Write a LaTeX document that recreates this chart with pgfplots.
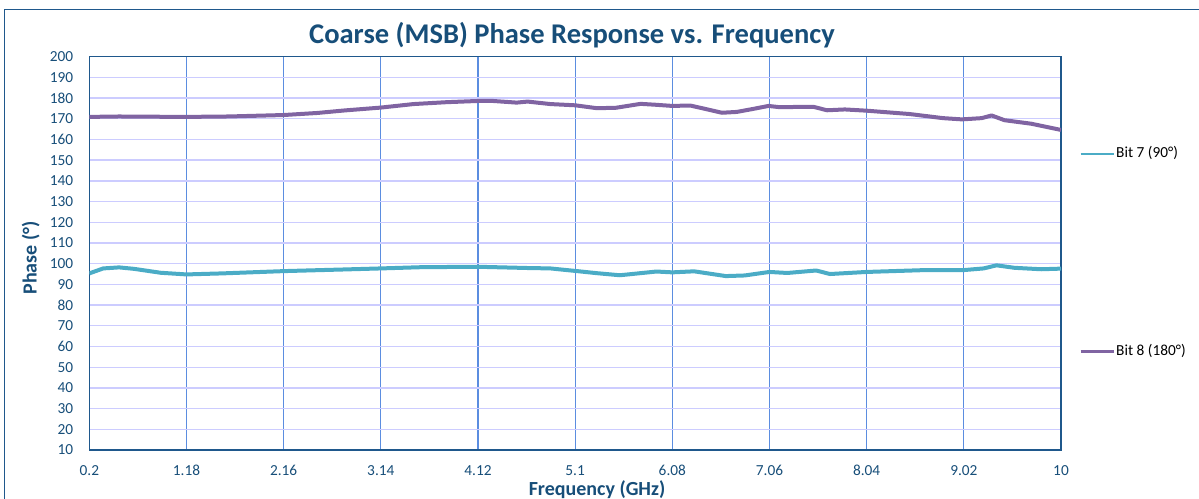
\documentclass[border=0pt]{standalone}
\usepackage{fontspec}
\setmainfont{Carlito}
\usepackage{pgfplots}
\pgfplotsset{compat=1.18}
\definecolor{navy}{RGB}{23,78,121}
\definecolor{framec}{RGB}{31,88,140}
\definecolor{bitcyan}{RGB}{75,172,198}
\definecolor{bitpurple}{RGB}{128,100,162}
\definecolor{vgrid}{RGB}{91,141,224}
\definecolor{hgrid}{RGB}{204,204,255}

\begin{document}
\begin{tikzpicture}
\useasboundingbox (-67pt,-36.75pt) rectangle (832.3pt,337.5pt);
\clip (-67pt,-36.75pt) rectangle (832.3pt,337.5pt);
\begin{axis}[
    scale only axis,
    width=728.8pt, height=295pt,
    xmin=0.2, xmax=10, ymin=10, ymax=200,
    xtick={0.2,1.18,2.16,3.14,4.12,5.1,6.08,7.06,8.04,9.02,10},
    xticklabels={0.2,1.18,2.16,3.14,4.12,5.1,6.08,7.06,8.04,9.02,10},
    ytick={10,20,...,200},
    major tick length=0pt,
    grid=major,
    major x grid style={vgrid, line width=0.8pt},
    major y grid style={hgrid, line width=1pt},
    axis line style={framec, line width=1.1pt},
    /pgf/number format/assume math mode=true,
    tick label style={font=\fontsize{11.5}{13.8}\selectfont, text=navy},
    xticklabel style={anchor=base, inner sep=0pt, yshift=-19.5pt},
    yticklabel style={anchor=east, inner sep=0pt, xshift=-11.9pt},
    title={Coarse (MSB) Phase Response vs. Frequency},
    every axis title/.style={at={(rel axis cs:0.4967,1.0347)}, anchor=base,
        font=\fontsize{21.4}{25}\selectfont\bfseries, text=navy},
    xlabel={Frequency (GHz)},
    every axis x label/.style={at={(rel axis cs:0.5225,-0.117)}, anchor=base,
        font=\fontsize{15}{18}\selectfont\bfseries, text=navy},
    ylabel={Phase (°)},
    every axis y label/.style={at={(rel axis cs:-0.0542,0.488)}, rotate=90, anchor=base,
        font=\fontsize{15}{18}\selectfont\bfseries, text=navy},
    legend image code/.code={\draw[#1, line width=2pt] (0pt,0pt) -- (24.75pt,0pt);},
    legend style={at={(rel axis cs:1.0185,0.501)}, anchor=west, draw=none, fill=none,
        inner sep=0pt, row sep=135.8pt,
        font=\fontsize{11.5}{13.8}\selectfont,
        nodes={inner sep=1pt, text height=8pt, text depth=2.5pt}},
    legend cell align=left,
]
\addplot[bitcyan, line width=3pt, line join=round] coordinates {
(0.2,95.3) (0.34,97.7) (0.5,98.2) (0.65,97.5) (0.92,95.6) (1.18,94.8)
(1.54,95.3) (2.16,96.4) (2.77,97.2) (3.14,97.7) (3.55,98.3) (4.12,98.5)
(4.62,97.9) (4.85,97.7) (5.1,96.5) (5.32,95.4) (5.55,94.4) (5.92,96.2)
(6.08,95.8) (6.3,96.3) (6.62,94.0) (6.81,94.3) (7.06,96.0) (7.24,95.5)
(7.53,96.7) (7.67,95.0) (8.04,96.0) (8.63,96.9) (9.02,96.9) (9.22,97.7)
(9.35,99.2) (9.53,98.0) (9.8,97.3) (10,97.6)
};
\addlegendentry{Bit 7 (90°)}
\addplot[bitpurple, line width=3pt, line join=round] coordinates {
(0.2,170.9) (0.5,171.1) (0.8,171.0) (1.18,170.9) (1.6,171.1) (2.16,171.8)
(2.5,172.8) (2.77,174.0) (3.14,175.4) (3.47,177.1) (3.8,178.0) (4.12,178.6)
(4.27,178.6) (4.51,177.8) (4.62,178.3) (4.85,177.1) (5.1,176.5) (5.32,175.1)
(5.51,175.3) (5.76,177.2) (5.9,176.8) (6.08,176.2) (6.26,176.4) (6.39,175.0)
(6.58,172.9) (6.73,173.3) (6.9,174.8) (7.05,176.2) (7.16,175.6) (7.5,175.8)
(7.64,174.1) (7.82,174.5) (8.04,173.9) (8.47,172.3) (8.81,170.3) (9.0,169.7)
(9.2,170.3) (9.3,171.6) (9.43,169.3) (9.7,167.6) (10,164.6)
};
\addlegendentry{Bit 8 (180°)}
\end{axis}
\draw[framec, line width=1.1pt] (-63.5pt,-80pt) rectangle (900pt,330.4pt);
\end{tikzpicture}
\end{document}
